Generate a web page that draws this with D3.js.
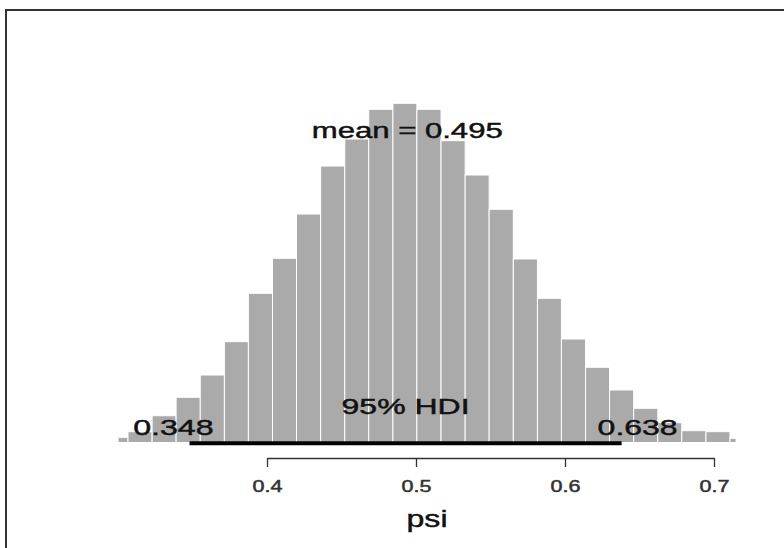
<!DOCTYPE html>
<html>
<head>
<meta charset="utf-8">
<script src="https://cdn.jsdelivr.net/npm/d3@7/dist/d3.min.js"></script>
<style>
  html, body { margin: 0; padding: 0; background: #fff; }
  svg { display: block; font-family: "Liberation Sans", Arial, Helvetica, sans-serif; }
</style>
</head>
<body>
<svg id="chart" width="784" height="548"></svg>
<script>
// ---- data ----
const breaks = [0.3000, 0.3067, 0.3229, 0.3390, 0.3552, 0.3714, 0.3875, 0.4037, 0.4198,
                0.4360, 0.4522, 0.4683, 0.4845, 0.5006, 0.5168, 0.5330, 0.5491, 0.5653,
                0.5815, 0.5976, 0.6138, 0.6299, 0.6461, 0.6623, 0.6784, 0.6946, 0.7107, 0.7148];
const density = [0.084, 0.175, 0.433, 0.731, 1.091, 1.630, 2.412, 2.978, 3.694, 4.470,
                 4.907, 5.387, 5.484, 5.387, 4.880, 4.325, 3.770, 2.967, 2.331, 1.673,
                 1.216, 0.849, 0.553, 0.320, 0.191, 0.175, 0.068];
const xTicks = [0.4, 0.5, 0.6, 0.7];
const xTickLabels = ["0.4", "0.5", "0.6", "0.7"];
const meanValue = 0.495;
const hdi = [0.348, 0.638];
const xLabel = "psi";

// ---- drawing ----
const svg = d3.select("#chart");
const x = d3.scaleLinear().domain([0.4, 0.7]).range([267, 714]);
const y = d3.scaleLinear().domain([0, 6]).range([442.5, 71.4]);

// outer frame
svg.append("rect")
  .attr("x", 6).attr("y", 10).attr("width", 800).attr("height", 600)
  .attr("fill", "none").attr("stroke", "#333").attr("stroke-width", 2);

const bins = density.map((d, i) => ({x0: breaks[i], x1: breaks[i + 1], v: d}));

svg.append("g").selectAll("rect").data(bins).join("rect")
  .attr("x", d => x(d.x0))
  .attr("width", d => x(d.x1) - x(d.x0))
  .attr("y", d => y(d.v))
  .attr("height", d => y(0) - y(d.v))
  .attr("fill", "#aaaaaa")
  .attr("stroke", "#ffffff")
  .attr("stroke-width", 1);

// HDI bar
svg.append("line")
  .attr("x1", x(hdi[0])).attr("x2", x(hdi[1]))
  .attr("y1", 443.3).attr("y2", 443.3)
  .attr("stroke", "#000").attr("stroke-width", 4);

// x axis
const axis = d3.axisBottom(x).tickValues(xTicks)
  .tickFormat((d, i) => xTickLabels[i]).tickSize(9).tickSizeOuter(0);
const gAxis = svg.append("g").attr("transform", "translate(0,458)").call(axis);
gAxis.select(".domain").attr("stroke", "#333").attr("stroke-width", 1.3);
gAxis.selectAll(".tick line").attr("stroke", "#333").attr("stroke-width", 1.3);
gAxis.selectAll(".tick text")
  .attr("fill", "#333").attr("stroke", "#333").attr("stroke-width", 0.5)
  .attr("font-size", 17).attr("dy", null).attr("y", 34)
  .attr("font-family", "Liberation Sans, Arial, sans-serif")
  .attr("textLength", 30).attr("lengthAdjust", "spacingAndGlyphs");

function label(txt, cx, baseline, size, width, anchorFrac) {
  svg.append("text")
    .attr("x", cx - width * anchorFrac)
    .attr("y", baseline)
    .attr("font-size", size)
    .attr("fill", "#111")
    .attr("stroke", "#111")
    .attr("stroke-width", 0.45)
    .attr("textLength", width)
    .attr("lengthAdjust", "spacingAndGlyphs")
    .text(txt);
}

label("mean = " + meanValue.toFixed(3), x(meanValue) - 1.3, 138.3, 22, 191, 0.5);
label("95% HDI", (x(hdi[0]) + x(hdi[1])) / 2, 414, 21.5, 128, 0.5);
label(hdi[0].toFixed(3), x(hdi[0]), 435, 21.5, 80.5, 0.7);
label(hdi[1].toFixed(3), x(hdi[1]), 435, 21.5, 80, 0.3);
label(xLabel, (x(breaks[0]) + x(breaks[breaks.length - 1])) / 2, 527, 24, 41, 0.5);
</script>
</body>
</html>
